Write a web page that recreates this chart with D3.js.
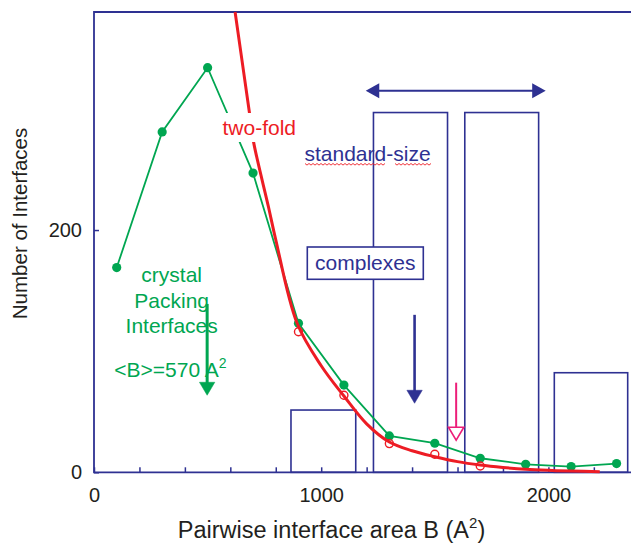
<!DOCTYPE html>
<html>
<head>
<meta charset="utf-8">
<script src="https://cdn.jsdelivr.net/npm/d3@7"></script>
<style>
  html, body { margin: 0; padding: 0; background: #fff; }
  svg { display: block; font-family: "Liberation Sans", Arial, Helvetica, sans-serif; }
</style>
</head>
<body>
<svg id="chart" width="631" height="545"></svg>
<script>
// Crystal packing interfaces (filled green markers)
const crystalB     = [100, 300, 500, 700, 900, 1100, 1300, 1500, 1700, 1900, 2100, 2300];
const crystalCount = [169, 281, 334, 247, 123, 72, 30, 24, 11.6, 6.6, 4.7, 7.2];

// Two-fold interfaces (open red circles)
const twofoldB     = [900, 1100, 1300, 1500, 1700];
const twofoldCount = [116, 63.6, 23.7, 14.9, 5.2];

// Fitted two-fold distribution (red curve)
const fitB     = [621, 684, 702, 768, 800, 894, 1000, 1100, 1200, 1300, 1400, 1500, 1600, 1700, 1800, 1900, 2000, 2100, 2226];
const fitCount = [380, 297, 273, 219, 192, 123, 88, 63, 40, 25, 17.8, 12.9, 8.8, 6, 4, 2.5, 1.6, 1, 0.5];

// Standard-size complexes histogram (blue hollow bars)
const binStart = [867, 1230, 1632, 2026];
const binEnd   = [1152, 1556, 1957, 2349];
const binCount = [51.4, 297, 297, 82.2];

// Axis ticks
const xTicks = [0, 200, 400, 600, 800, 1000, 1200, 1400, 1600, 1800, 2000, 2200, 2400];
const xTickLabels = ["0", "1000", "2000"];
const yTicks = [0, 200];

const BLUE = "#2e3192", GREEN = "#00a651", RED = "#ed1c24", PINK = "#ec1e79", INK = "#231f20";

const svg = d3.select("#chart");
const x = d3.scaleLinear().domain([0, 2400]).range([94, 94 + 2400 * 0.2272]);
const y = d3.scaleLinear().domain([0, 380]).range([472.3, 12]);

// Histogram bars
svg.append("g").selectAll("rect").data(binCount).join("rect")
  .attr("x", (d, i) => x(binStart[i]))
  .attr("width", (d, i) => x(binEnd[i]) - x(binStart[i]))
  .attr("y", d => y(d))
  .attr("height", d => y(0) - y(d))
  .attr("fill", "none").attr("stroke", BLUE).attr("stroke-width", 1.6);

// Axes
const xAxis = d3.axisBottom(x).tickValues(xTicks)
  .tickFormat(d => xTickLabels.includes(String(d)) ? String(d) : "")
  .tickSizeInner(-5).tickSizeOuter(0).tickPadding(16);
const gx = svg.append("g").attr("transform", `translate(0,${y(0)})`).call(xAxis);
gx.select(".domain").remove();
gx.selectAll("line").attr("stroke", BLUE).attr("stroke-width", 1.5);
gx.selectAll("text").attr("fill", INK).attr("font-size", 20).attr("font-family", null);

const yAxis = d3.axisLeft(y).tickValues(yTicks).tickFormat(d3.format("d"))
  .tickSizeInner(-5).tickSizeOuter(0).tickPadding(12);
const gy = svg.append("g").attr("transform", `translate(${x(0)},0)`).call(yAxis);
gy.select(".domain").remove();
gy.selectAll("line").attr("stroke", BLUE).attr("stroke-width", 1.5);
gy.selectAll("text").attr("fill", INK).attr("font-size", 20).attr("font-family", null);

// Frame (left, top, bottom)
svg.append("path")
  .attr("d", `M${x(2400)},${y(380)}H${x(0)}V${y(0)}H${x(2400)}`)
  .attr("fill", "none").attr("stroke", BLUE).attr("stroke-width", 1.8);

// Crystal packing line + markers
svg.append("path")
  .datum(crystalB.map((b, i) => [b, crystalCount[i]]))
  .attr("d", d3.line().x(d => x(d[0])).y(d => y(d[1])))
  .attr("fill", "none").attr("stroke", GREEN).attr("stroke-width", 1.8);
svg.append("g").selectAll("circle").data(crystalCount).join("circle")
  .attr("cx", (d, i) => x(crystalB[i])).attr("cy", d => y(d)).attr("r", 4.6)
  .attr("fill", GREEN);

// Two-fold fit curve + open circles
svg.append("path")
  .datum(fitB.map((b, i) => [b, fitCount[i]]))
  .attr("d", d3.line().curve(d3.curveCatmullRom).x(d => x(d[0])).y(d => y(d[1])))
  .attr("fill", "none").attr("stroke", RED).attr("stroke-width", 3);
svg.append("g").selectAll("circle").data(twofoldCount).join("circle")
  .attr("cx", (d, i) => x(twofoldB[i])).attr("cy", d => y(d)).attr("r", 4)
  .attr("fill", "none").attr("stroke", RED).attr("stroke-width", 1.4);

// Arrow helpers
function downArrow(bx, v0, v1, color, lw, open) {
  const cx = x(bx), top = y(v0), tip = y(v1), headLen = 13, half = 7.7;
  svg.append("line").attr("x1", cx).attr("x2", cx).attr("y1", top).attr("y2", tip - headLen + (open ? 0 : 2))
    .attr("stroke", color).attr("stroke-width", lw);
  svg.append("path")
    .attr("d", `M${cx - half},${tip - headLen}L${cx + half},${tip - headLen}L${cx},${tip}Z`)
    .attr("fill", open ? "#fff" : color).attr("stroke", color).attr("stroke-width", open ? 1.6 : 0.5)
    .attr("stroke-linejoin", "miter");
}
downArrow(498, 139, 63.6, GREEN, 3, false);
downArrow(1411, 130, 57, BLUE, 2.6, false);
downArrow(1594, 74, 26.5, PINK, 2, true);

// Double-headed range arrow over the standard-size complexes
{
  const yy = y(315), xl = x(1196), xr = x(1988), head = 13.5, half = 7.5;
  svg.append("line").attr("x1", xl + head - 1).attr("x2", xr - head + 1).attr("y1", yy).attr("y2", yy)
    .attr("stroke", BLUE).attr("stroke-width", 2.2);
  svg.append("path").attr("d", `M${xl},${yy}L${xl + head},${yy - half}L${xl + head},${yy + half}Z`).attr("fill", BLUE);
  svg.append("path").attr("d", `M${xr},${yy}L${xr - head},${yy - half}L${xr - head},${yy + half}Z`).attr("fill", BLUE);
}

// "two-fold" label on a white patch
svg.append("rect").attr("x", 219).attr("y", 113).attr("width", 80).attr("height", 29).attr("fill", "#fff");
svg.append("text").attr("x", 222.5).attr("y", 135).attr("fill", RED).attr("font-size", 21).text("two-fold");

// "standard-size" label with a wavy underline
svg.append("text").attr("x", 304.5).attr("y", 161).attr("fill", BLUE).attr("font-size", 21).text("standard-size");
function squiggle(x0, x1, yy) {
  let d = `M${x0},${yy}`;
  for (let xx = x0, k = 0; xx < x1; xx += 2, k++) d += `L${xx + 2},${yy + (k % 2 ? 0 : 1.6)}`;
  svg.append("path").attr("d", d).attr("fill", "none").attr("stroke", RED).attr("stroke-width", 0.9);
}
squiggle(305, 385, 163.5);
squiggle(395, 431, 163.5);

// "complexes" boxed label
svg.append("rect").attr("x", 307.3).attr("y", 247).attr("width", 116).attr("height", 32.3)
  .attr("fill", "#fff").attr("stroke", BLUE).attr("stroke-width", 1.6);
svg.append("text").attr("x", 365.3).attr("y", 269.5).attr("text-anchor", "middle")
  .attr("fill", BLUE).attr("font-size", 21).text("complexes");

// Crystal packing annotation
const crystalLines = ["crystal", "Packing", "Interfaces"];
svg.append("g").selectAll("text").data(crystalLines).join("text")
  .attr("x", 171.7).attr("y", (d, i) => 281.7 + i * 25.8).attr("text-anchor", "middle")
  .attr("fill", GREEN).attr("font-size", 21).text(d => d);
const mean = svg.append("text").attr("x", 114.3).attr("y", 376.7).attr("fill", GREEN).attr("font-size", 21);
mean.append("tspan").text("<B>=570 A");
mean.append("tspan").attr("dy", -9).attr("font-size", 14).text("2");

// Axis titles
svg.append("text").attr("transform", "translate(27,223.5) rotate(-90)").attr("text-anchor", "middle")
  .attr("fill", INK).attr("font-size", 20.5).text("Number of Interfaces");
const xt = svg.append("text").attr("x", 331.5).attr("y", 538).attr("text-anchor", "middle")
  .attr("fill", INK).attr("font-size", 23.5);
xt.append("tspan").text("Pairwise interface area B (A");
xt.append("tspan").attr("dy", -10).attr("font-size", 15).text("2");
xt.append("tspan").attr("dy", 10).text(")");
</script>
</body>
</html>
